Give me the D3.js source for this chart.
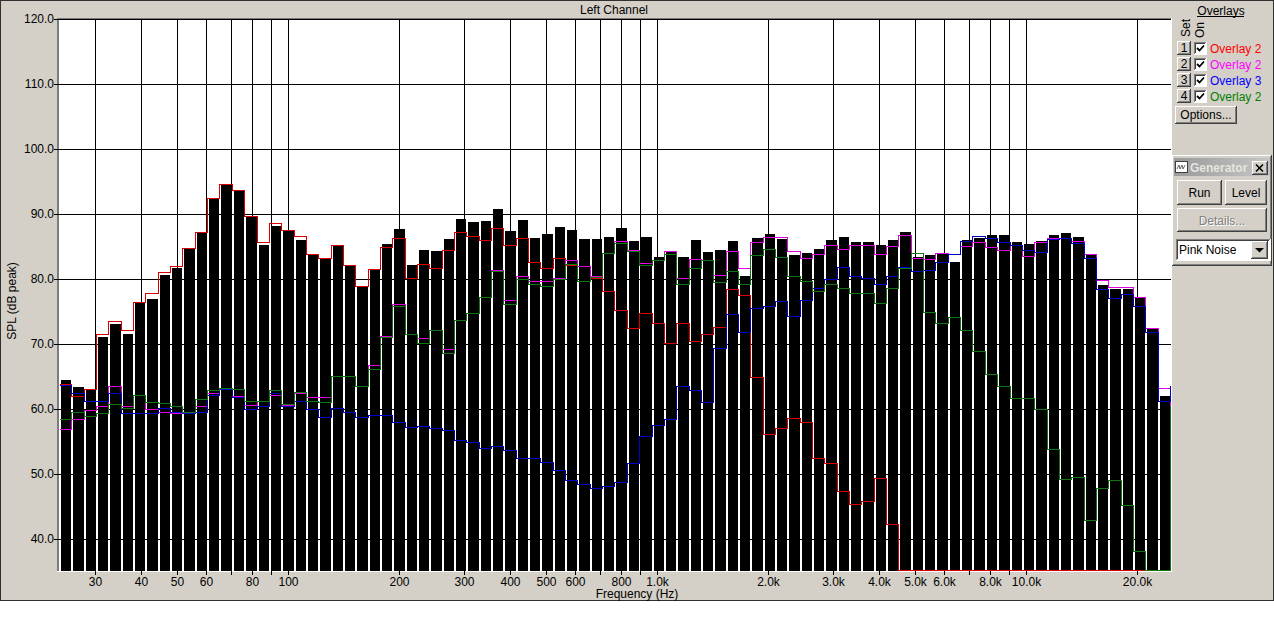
<!DOCTYPE html>
<html>
<head>
<meta charset="utf-8">
<script src="https://cdn.jsdelivr.net/npm/d3@7"></script>
<style>
  html, body { margin: 0; padding: 0; background: #fff; }
  svg { display: block; font-family: "Liberation Sans", Arial, sans-serif; font-size: 12px; }
</style>
</head>
<body>
<svg id="chart" width="1274" height="637"></svg>
<script>
// analyzer bands: 1/9 octave from 24 Hz
const firstBandHz = 24
const bandsPerOctave = 9
const bandCount = 90

// live measurement (black bars), dB peak per band
const liveLevels = [
  64.4, 63.3, 63.1, 71.1, 73.0, 71.5, 76.2, 76.9, 80.6, 81.7,
  84.6, 87.0, 92.3, 94.5, 93.5, 89.5, 85.2, 88.1, 87.3, 86.0,
  83.7, 83.0, 85.1, 82.0, 78.7, 81.3, 85.4, 87.7, 82.1, 84.4,
  84.3, 86.1, 89.2, 88.7, 88.9, 90.7, 87.4, 89.0, 86.3, 86.9,
  88.0, 87.5, 86.1, 86.1, 86.4, 87.8, 85.8, 86.4, 83.4, 84.3,
  83.4, 86.0, 84.1, 84.4, 85.8, 80.4, 86.3, 86.9, 86.2, 83.7,
  84.0, 84.6, 86.0, 86.4, 85.7, 85.7, 85.2, 86.0, 87.2, 83.4,
  83.7, 84.0, 82.6, 85.9, 86.3, 86.8, 86.8, 85.7, 85.4, 85.8,
  86.8, 87.0, 86.4, 83.7, 79.0, 78.4, 78.5, 77.1, 72.4, 62.0
]

// overlays: one value per band, last entry is the band past the right edge
const overlay1 = [
  63.6, 61.8, 62.8, 71.3, 73.4, 72.0, 76.2, 77.6, 80.9, 81.8,
  84.6, 87.0, 92.3, 94.5, 93.5, 89.5, 85.5, 88.5, 87.3, 86.4,
  83.7, 83.0, 85.1, 82.0, 78.7, 81.3, 84.7, 86.1, 80.0, 82.1,
  81.5, 84.3, 87.0, 86.5, 85.8, 87.7, 85.1, 86.2, 82.4, 81.5,
  83.1, 81.9, 81.8, 80.0, 77.9, 75.1, 72.3, 74.5, 73.0, 69.9,
  73.1, 70.2, 71.3, 72.4, 78.2, 77.4, 64.7, 55.9, 56.8, 58.4,
  57.8, 52.3, 51.4, 47.1, 45.2, 45.7, 49.1, 42.1, 35, 35,
  35, 35, 35, 35, 35, 35, 35, 35, 35, 35,
  35, 35, 35, 35, 35, 35, 35, 35, 35, 35,
  35
]
const overlay2 = [
  56.7, 58.3, 59.7, 60.2, 63.3, 60.3, 62.0, 59.8, 59.4, 59.1,
  59.1, 60.2, 62.2, 62.8, 61.8, 60.4, 61.0, 62.0, 60.4, 62.2,
  61.6, 61.6, 64.9, 64.9, 63.3, 66.5, 71.1, 75.9, 71.4, 70.8,
  72.0, 69.1, 73.5, 74.5, 77.0, 81.2, 76.5, 80.2, 79.5, 79.5,
  80.0, 82.8, 81.8, 80.3, 83.8, 85.6, 84.3, 82.2, 82.7, 84.1,
  79.9, 82.9, 82.7, 80.5, 84.1, 81.5, 85.5, 86.3, 86.3, 84.1,
  83.1, 83.6, 85.0, 84.4, 85.0, 85.1, 83.7, 84.9, 86.6, 83.1,
  82.9, 83.8, 83.7, 84.9, 85.5, 84.7, 84.2, 85.1, 83.3, 85.5,
  86.1, 86.1, 85.7, 83.7, 79.7, 78.6, 78.6, 77.0, 72.3, 63.0,
  58.3
]
const overlay3 = [
  63.5, 62.2, 61.0, 61.0, 62.2, 59.1, 59.1, 59.1, 60.0, 59.3,
  59.1, 59.4, 62.0, 62.8, 61.6, 59.8, 60.2, 62.2, 60.2, 61.0,
  59.8, 58.5, 60.0, 59.3, 58.5, 58.8, 58.8, 57.8, 57.0, 57.2,
  56.8, 56.6, 55.0, 54.7, 53.8, 54.1, 53.5, 52.3, 52.2, 51.6,
  50.4, 48.9, 48.3, 47.7, 48.0, 48.5, 51.4, 55.7, 57.4, 58.2,
  63.4, 62.7, 60.8, 69.2, 74.4, 71.6, 75.3, 75.6, 76.4, 74.1,
  76.5, 78.4, 79.8, 81.6, 80.3, 80.0, 79.0, 80.3, 81.6, 81.0,
  81.2, 82.4, 83.6, 85.7, 86.5, 86.1, 85.5, 85.1, 84.3, 83.9,
  85.9, 86.1, 85.4, 83.1, 78.3, 76.9, 77.5, 75.6, 71.6, 61.0,
  63.4
]
const overlay4 = [
  58.3, 59.3, 58.7, 59.1, 60.5, 59.9, 61.9, 60.8, 60.7, 60.2,
  59.4, 61.4, 62.7, 63.1, 62.8, 61.0, 61.1, 62.7, 60.5, 62.4,
  61.1, 60.8, 64.8, 64.9, 63.3, 66.0, 70.9, 75.7, 71.4, 69.9,
  72.0, 68.4, 73.5, 74.5, 77.0, 81.0, 75.9, 79.8, 79.1, 78.8,
  79.8, 82.1, 79.5, 80.1, 83.8, 85.4, 84.1, 81.9, 82.8, 83.7,
  79.1, 81.5, 82.7, 79.3, 81.0, 79.0, 83.5, 84.5, 83.2, 80.2,
  79.5, 78.0, 79.0, 78.5, 77.6, 77.6, 76.1, 78.4, 81.5, 83.8,
  74.8, 73.1, 73.9, 71.9, 68.7, 65.2, 63.3, 61.5, 61.5, 59.8,
  53.6, 49.0, 49.3, 42.7, 47.7, 48.9, 45.0, 37.9, 35, 35,
  60.2
]

const yTicks = [40, 50, 60, 70, 80, 90, 100, 110, 120]
const gridHz = [30, 40, 50, 60, 70, 80, 90, 100, 200, 300, 400, 500, 600, 700, 800, 900,
  1000, 2000, 3000, 4000, 5000, 6000, 7000, 8000, 9000, 10000, 20000]
const labelHz = [30, 40, 50, 60, 80, 100, 200, 300, 400, 500, 600, 800,
  1000, 2000, 3000, 4000, 5000, 6000, 8000, 10000, 20000]
const labelText = ['30', '40', '50', '60', '80', '100', '200', '300', '400', '500', '600', '800',
  '1.0k', '2.0k', '3.0k', '4.0k', '5.0k', '6.0k', '8.0k', '10.0k', '20.0k']

const overlaySets = ['1', '2', '3', '4']
const overlayNames = ['Overlay 2', 'Overlay 2', 'Overlay 3', 'Overlay 2']
const overlayText = ['#ff0000', '#ff00ff', '#0000ff', '#008000']
const overlayLine = ['#d80000', '#e000e0', '#0000c8', '#107810']
const overlayLevels = [overlay1, overlay2, overlay3, overlay4]

const face = '#d4d0c8'
const svg = d3.select('#chart')

const bandEdge = (i)=> firstBandHz * Math.pow(2, i / bandsPerOctave)

const x = d3.scaleLog()
  .domain([firstBandHz, bandEdge(bandCount)])
  .range([59, 1170])
  .interpolate(d3.interpolateRound)
const y = d3.scaleLinear()
  .domain([35, 120])
  .rangeRound([571, 19])

function px(g, x0, y0, w, h, fill) {
  return g.append('rect').attr('x', x0).attr('y', y0).attr('width', w).attr('height', h).attr('fill', fill)
}

function raised(g, x0, y0, w, h) {
  px(g, x0, y0, w, h, face)
  px(g, x0, y0, w - 1, 1, '#fff')
  px(g, x0, y0, 1, h - 1, '#fff')
  px(g, x0 + 1, y0 + h - 2, w - 2, 1, '#808080')
  px(g, x0 + w - 2, y0 + 1, 1, h - 2, '#808080')
  px(g, x0, y0 + h - 1, w, 1, '#404040')
  px(g, x0 + w - 1, y0, 1, h, '#404040')
}

function sunken(g, x0, y0, w, h, fill) {
  px(g, x0, y0, w, h, fill)
  px(g, x0, y0, w - 1, 1, '#808080')
  px(g, x0, y0, 1, h - 1, '#808080')
  px(g, x0 + 1, y0 + 1, w - 3, 1, '#404040')
  px(g, x0 + 1, y0 + 1, 1, h - 3, '#404040')
  px(g, x0, y0 + h - 1, w, 1, '#fff')
  px(g, x0 + w - 1, y0, 1, h, '#fff')
}

function label(g, tx, ty, text, anchor, color) {
  return g.append('text').attr('x', tx).attr('y', ty)
    .attr('text-anchor', anchor || 'start')
    .attr('fill', color || '#000')
    .text(text)
}

// window background
px(svg, 0, 0, 1274, 601, face)
svg.append('rect').attr('x', 0.5).attr('y', 0.5).attr('width', 1273).attr('height', 600)
  .attr('fill', 'none').attr('stroke', '#303030')

// plot area
px(svg, 59, 19, 1112, 552, '#fff')

const grid = svg.append('g').attr('stroke', '#000').attr('shape-rendering', 'crispEdges')
grid.selectAll('.hgrid')
  .data(yTicks)
  .enter()
  .append('line')
  .attr('x1', 59).attr('x2', 1171)
  .attr('y1', (d)=> y(d) + 0.5).attr('y2', (d)=> y(d) + 0.5)
grid.selectAll('.vgrid')
  .data(gridHz)
  .enter()
  .append('line')
  .attr('x1', (d)=> x(d) + 0.5).attr('x2', (d)=> x(d) + 0.5)
  .attr('y1', 19).attr('y2', 571)

svg.append('clipPath').attr('id', 'plot-clip')
  .append('rect').attr('x', 59).attr('y', 19).attr('width', 1112).attr('height', 552)

const plot = svg.append('g').attr('clip-path', 'url(#plot-clip)')

plot.selectAll('.bar')
  .data(liveLevels)
  .enter()
  .append('rect')
  .attr('class', 'bar')
  .attr('x', (d, i)=> x(bandEdge(i)) + 2)
  .attr('width', (d, i)=> x(bandEdge(i + 1)) - x(bandEdge(i)) - 2)
  .attr('y', (d)=> y(d))
  .attr('height', (d)=> 571 - y(d))
  .attr('fill', '#000')

const step = d3.line()
  .x((d)=> x(d[0]) + 0.5)
  .y((d)=> y(d[1]) - 0.5)
  .curve(d3.curveStepAfter)

overlayLevels.forEach((levels, k)=> {
  const pts = levels.map((v, i)=> [bandEdge(i), v])
  pts.push([bandEdge(levels.length), levels[levels.length - 1]])
  plot.append('path')
    .attr('d', step(pts))
    .attr('fill', 'none')
    .attr('stroke', overlayLine[k])
    .attr('stroke-width', 1)
    .attr('shape-rendering', 'crispEdges')
})

// sunken frame of the plot
px(svg, 57, 18, 2, 554, '#7c7c7c')
px(svg, 57, 18, 1115, 1, '#7c7c7c')
px(svg, 57, 571, 1115, 1, '#fff')
px(svg, 1171, 18, 1, 554, '#fff')

// axes
const yAxis = d3.axisLeft(y).tickValues(yTicks).tickFormat(d3.format('.1f')).tickSize(5).tickPadding(0)
const gy = svg.append('g').attr('transform', 'translate(59,0)').call(yAxis)

const xAxis = d3.axisBottom(x)
  .tickValues(gridHz)
  .tickFormat((d)=> labelHz.indexOf(d) >= 0 ? labelText[labelHz.indexOf(d)] : '')
  .tickSize(4)
  .tickPadding(2)
const gx = svg.append('g').attr('transform', 'translate(0,571)').call(xAxis)

;[gx, gy].forEach((g)=> {
  g.attr('font-family', null).attr('font-size', null)
  g.select('.domain').remove()
  g.selectAll('line').attr('stroke', '#000').attr('shape-rendering', 'crispEdges')
  g.selectAll('text').attr('fill', '#000')
})

label(svg, 614, 14, 'Left Channel', 'middle')
label(svg, 637, 598, 'Frequency (Hz)', 'middle')
label(svg, 0, 0, 'SPL (dB peak)', 'middle').attr('transform', 'translate(16,301) rotate(-90)')

// overlay panel
const panel = svg.append('g')
const head = label(panel, 1221, 15, 'Overlays', 'middle')
const headW = head.node().getComputedTextLength()
px(panel, Math.round(1221 - headW / 2), 16, Math.round(headW), 1, '#000')
label(panel, 0, 0, 'Set', 'middle').attr('transform', 'translate(1190,28) rotate(-90)')
label(panel, 0, 0, 'On', 'middle').attr('transform', 'translate(1204,30) rotate(-90)')

overlaySets.forEach((set, i)=> {
  const ry = 41 + 16 * i
  raised(panel, 1177, ry, 14, 14)
  label(panel, 1184, ry + 11, set, 'middle')
  sunken(panel, 1194, ry + 1, 13, 13, '#fff')
  panel.append('path')
    .attr('d', `M ${1197} ${ry + 7} L ${1199.5} ${ry + 9.5} L ${1204} ${ry + 4.5}`)
    .attr('fill', 'none').attr('stroke', '#000').attr('stroke-width', 1.8)
  label(panel, 1210, ry + 12, overlayNames[i], 'start', overlayText[i])
})

raised(panel, 1175, 106, 62, 18)
label(panel, 1206, 119, 'Options...', 'middle')

// generator tool window
const gen = svg.append('g')
raised(gen, 1172, 155, 100, 111)
const grad = svg.append('defs').append('linearGradient').attr('id', 'caption')
grad.append('stop').attr('offset', '0%').attr('stop-color', '#9a9a9a')
grad.append('stop').attr('offset', '100%').attr('stop-color', '#c6c6c6')
gen.append('rect').attr('x', 1174).attr('y', 158).attr('width', 96).attr('height', 18).attr('fill', 'url(#caption)')
px(gen, 1175, 161, 13, 12, '#404040')
px(gen, 1176, 162, 11, 10, '#fff')
gen.append('path')
  .attr('d', 'M 1177 169 L 1179 165 L 1180 169 L 1182 165 L 1183 169 L 1185 165')
  .attr('fill', 'none').attr('stroke', '#404040').attr('stroke-width', 0.8)
label(gen, 1190, 172, 'Generator', 'start', '#e6e4de').attr('font-weight', 'bold')
raised(gen, 1252, 161, 16, 14)
gen.append('path')
  .attr('d', 'M 1256 164.5 L 1263 171.5 M 1263 164.5 L 1256 171.5')
  .attr('stroke', '#000').attr('stroke-width', 1.6)

raised(gen, 1177, 180, 45, 25)
label(gen, 1199.5, 197, 'Run', 'middle')
raised(gen, 1225, 180, 42, 25)
label(gen, 1246, 197, 'Level', 'middle')
raised(gen, 1177, 208, 90, 24)
label(gen, 1223, 226, 'Details...', 'middle', '#fff')
label(gen, 1222, 225, 'Details...', 'middle', '#808080')

sunken(gen, 1176, 239, 95, 22, '#fff')
label(gen, 1179, 254, 'Pink Noise')
raised(gen, 1251, 241, 17, 18)
gen.append('path').attr('d', 'M 1255 248 L 1264 248 L 1259.5 252.5 Z').attr('fill', '#000')
</script>
</body>
</html>
